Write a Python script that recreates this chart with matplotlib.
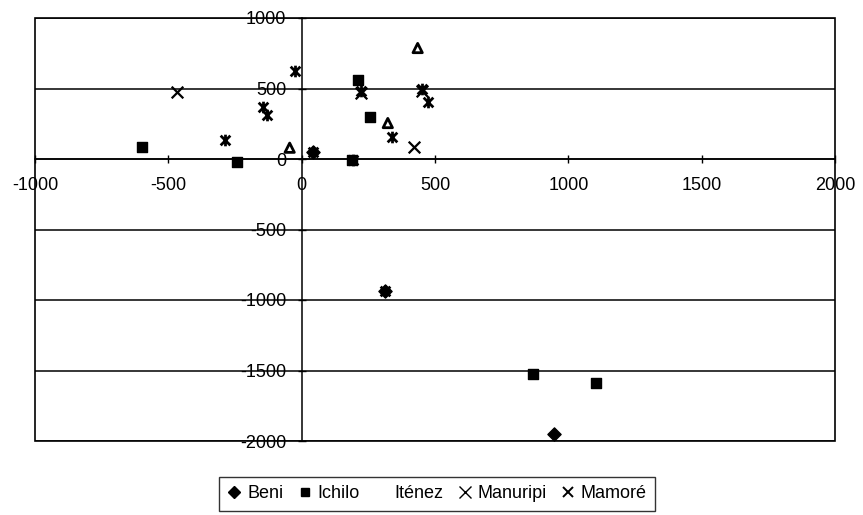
import matplotlib.pyplot as plt
from matplotlib.lines import Line2D
from matplotlib.path import Path
from matplotlib.patches import Rectangle

plt.rcParams['font.family'] = ['Liberation Sans', 'DejaVu Sans']

# data
beni_x = [41, 311, 948]
beni_y = [50, -936, -1950]

ichilo_x = [-599, -243, 210, 255, 187, 869, 1105]
ichilo_y = [85, -21, 560, 298, -7, -1525, -1589]

itenez_x = [435, 323, -45]
itenez_y = [787, 255, 80]

manuripi_x = [-468, 423, 224, 453]
manuripi_y = [475, 85, 470, 480]

mamore_x = [-288, -146, -131, -26, 224, 453, 472, 337, 191, 41, 311]
mamore_y = [135, 369, 312, 624, 483, 496, 404, 156, -7, 50, -936]

xticks = [-1000, -500, 0, 500, 1000, 1500, 2000]
yticks = [-2000, -1500, -1000, -500, 0, 500, 1000]

# excel style asterisk: an x with a vertical bar
ast = Path([(-1, -1), (1, 1), (-1, 1), (1, -1), (0, -1.2), (0, 1.2)],
           [Path.MOVETO, Path.LINETO, Path.MOVETO, Path.LINETO, Path.MOVETO, Path.LINETO])

fig = plt.figure(figsize=(8.63, 5.15), dpi=100)
ax = fig.add_axes([35 / 863, 74 / 515, 800 / 863, 423 / 515])

ax.scatter(beni_x, beni_y, marker='D', s=45, color='black', zorder=3)
ax.scatter(ichilo_x, ichilo_y, marker='s', s=60, color='black', zorder=3)
ax.scatter(itenez_x, itenez_y, marker='^', s=45, facecolors='none', edgecolors='black', linewidths=2, zorder=3)
ax.scatter(manuripi_x, manuripi_y, marker='x', s=70, color='black', linewidths=1.6, zorder=3)
ax.scatter(mamore_x, mamore_y, marker=ast, s=70, color='black', linewidths=2, zorder=3)

ax.set_xlim(-1000, 2000)
ax.set_ylim(-2000, 1000)
ax.set_xticks(xticks)
ax.set_yticks(yticks)
ax.set_xticklabels([str(v) for v in xticks])
ax.set_yticklabels([str(v) for v in yticks])

for y in yticks:
    ax.axhline(y, color='black', lw=1.1, zorder=1)

ax.spines['left'].set_position(('data', 0))
ax.spines['bottom'].set_position(('data', 0))
ax.spines['right'].set_visible(False)
ax.spines['top'].set_visible(False)
ax.spines['left'].set_linewidth(1.1)
ax.spines['bottom'].set_linewidth(1.1)
ax.add_patch(Rectangle((0, 0), 1, 1, transform=ax.transAxes, fill=False,
                       edgecolor='black', lw=1.2, clip_on=False, zorder=2))

ax.tick_params(direction='inout', length=6, width=1, labelsize=13)
ax.tick_params(axis='y', pad=8)
ax.tick_params(axis='x', pad=10)
ax.set_facecolor('white')

handles = [
    Line2D([], [], marker='D', color='black', ls='none', ms=6),
    Line2D([], [], marker='s', color='black', ls='none', ms=6),
    Line2D([], [], marker='None', ls='none'),
    Line2D([], [], marker='x', color='black', ls='none', ms=8, mew=1),
    Line2D([], [], marker='x', color='black', ls='none', ms=7, mew=1.4),
]
labels = ['Beni', 'Ichilo', 'Iténez', 'Manuripi', 'Mamoré']
leg = fig.legend(handles, labels, loc='center', bbox_to_anchor=(437 / 863, 1 - 494 / 515),
                 ncol=5, frameon=True, fancybox=False, fontsize=13, handlelength=0.8,
                 handletextpad=0.3, columnspacing=0.8, borderpad=0.45)
leg.get_frame().set_edgecolor('black')
leg.get_frame().set_linewidth(1)

fig.savefig('out.png', dpi=100)
